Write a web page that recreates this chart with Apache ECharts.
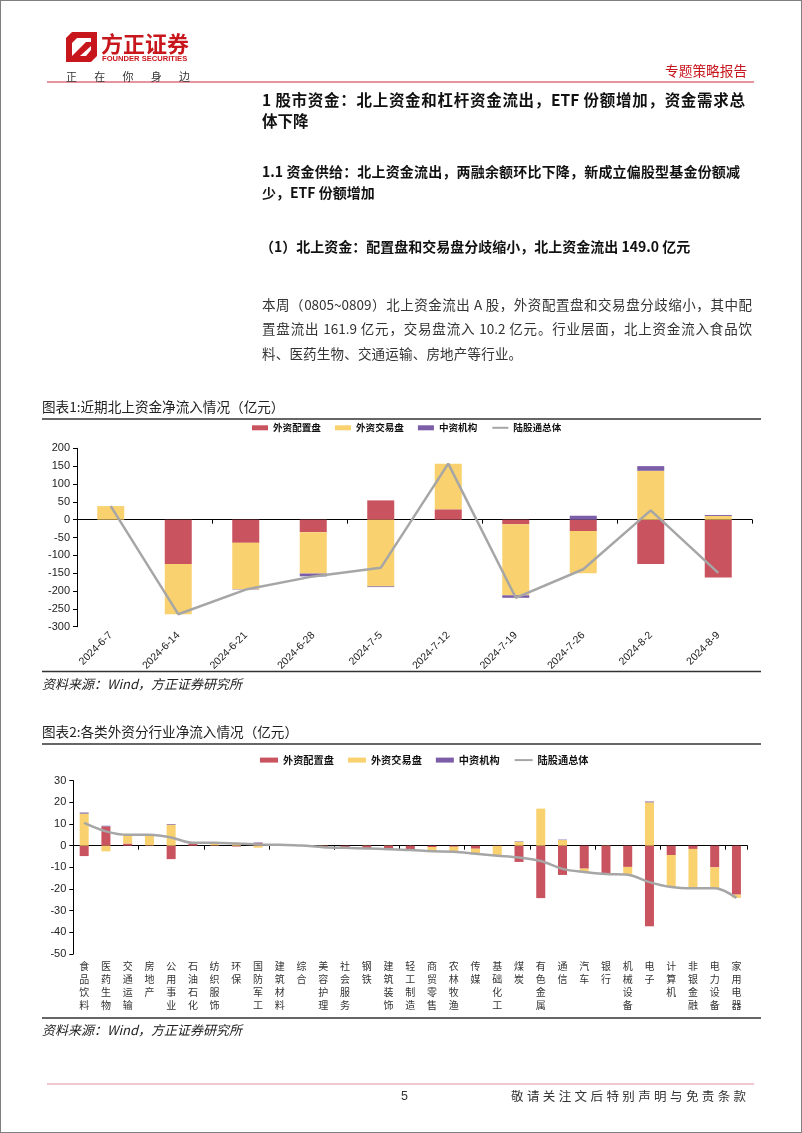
<!DOCTYPE html>
<html>
<head>
<meta charset="utf-8">
<script src="https://cdn.jsdelivr.net/npm/echarts@6/dist/echarts.min.js"></script>
<style>
html,body{margin:0;padding:0;background:#fff;}
#page{position:relative;width:802px;height:1133px;overflow:hidden;background:#fff;font-family:'Noto Sans CJK SC','Noto Sans',sans-serif;}
#frame{position:absolute;left:0;top:0;width:800px;height:1131px;border:1px solid #7f7f7f;}
#chart{position:absolute;left:0;top:0;width:802px;height:1133px;}
.t{position:absolute;white-space:normal;color:#111;}
.j{text-align:justify;text-align-last:justify;}
.h1{font-size:15.5px;font-weight:bold;line-height:20px;}
.h2{font-size:14px;font-weight:bold;line-height:20px;}
.b{font-size:13.5px;line-height:20px;color:#333;}
</style>
</head>
<body>
<div id="page">
  <div id="frame"></div>
  <div id="chart"></div>

  <!-- header -->
  <svg style="position:absolute;left:0;top:0" width="802" height="90">
    <path d="M66,38 L72,32 L97,32 L97,56 L91,62 L66,62 Z" fill="#C8161D"/>
    <path d="M72,43 L77,38 L91,38 L91,50 L86,56 L72,56 Z" fill="#fff"/>
    <path d="M72,56 L86,42 L91,42 L91,46 L80,56 Z" fill="#C8161D"/>
    <line x1="47" y1="82" x2="754" y2="82" stroke="#E0707F" stroke-width="1.5"/>
  </svg>
  <div class="t" style="left:101px;top:29px;font-size:22px;font-weight:bold;color:#C8161D;line-height:26px;letter-spacing:0px;">方正证券</div>
  <div class="t" style="left:102px;top:54px;font-size:7.6px;font-weight:bold;color:#C8161D;line-height:10px;font-family:'Liberation Sans',Arial,sans-serif;">FOUNDER SECURITIES</div>
  <div class="t j" style="left:66px;top:69px;width:124px;font-size:11px;color:#333;line-height:14px;">正 在 你 身 边</div>
  <div class="t" style="left:665px;top:61px;font-size:13.7px;color:#C8161D;line-height:18px;">专题策略报告</div>

  <!-- headings -->
  <div class="t j h1" style="left:262px;top:89px;width:483px;">1 股市资金：北上资金和杠杆资金流出，ETF 份额增加，资金需求总</div>
  <div class="t h1" style="left:262px;top:110px;">体下降</div>
  <div class="t j h2" style="left:262px;top:161px;width:478px;">1.1 资金供给：北上资金流出，两融余额环比下降，新成立偏股型基金份额减</div>
  <div class="t h2" style="left:262px;top:182px;">少，ETF 份额增加</div>
  <div class="t h2" style="left:260px;top:236px;">（1）北上资金：配置盘和交易盘分歧缩小，北上资金流出 149.0 亿元</div>

  <div class="t j b" style="left:262px;top:294px;width:490px;">本周（0805~0809）北上资金流出 A 股，外资配置盘和交易盘分歧缩小，其中配</div>
  <div class="t j b" style="left:262px;top:318px;width:490px;">置盘流出 161.9 亿元，交易盘流入 10.2 亿元。行业层面，北上资金流入食品饮</div>
  <div class="t b" style="left:262px;top:343px;letter-spacing:0.2px;">料、医药生物、交通运输、房地产等行业。</div>

  <!-- footer -->
  <svg style="position:absolute;left:0;top:1075" width="802" height="20">
    <line x1="47" y1="9" x2="754" y2="9" stroke="#E88C9C" stroke-width="1.2"/>
  </svg>
  <div class="t" style="left:401px;top:1088px;font-size:12.5px;color:#333;line-height:16px;font-family:'Liberation Sans',Arial,sans-serif;">5</div>
  <div class="t" style="left:511px;top:1088px;font-size:12.5px;color:#333;line-height:16px;letter-spacing:3.4px;">敬请关注文后特别声明与免责条款</div>
</div>

<script>
// ---------- Chart 1: 近期北上资金净流入情况（亿元） ----------
const dates1  = ['2024-6-7','2024-6-14','2024-6-21','2024-6-28','2024-7-5','2024-7-12','2024-7-19','2024-7-26','2024-8-2','2024-8-9'];
const alloc1  = [0,   -124, -65,  -35,  54,   29,   -13,  -32,  -124, -161.9];
const trade1  = [38,  -141, -130, -116, -187, 128,  -199, -118, 137,  10.2];
const china1  = [0,   0,    -1,   -8,   -2,   0,    -7,   11,   13,   2.7];
const total1  = [38,  -265, -196, -159, -135, 157,  -219, -139, 26,   -149.0];
const yMin1 = -300, yMax1 = 200, yStep1 = 50;

// ---------- Chart 2: 各类外资分行业净流入情况（亿元） ----------
const inds2   = ['食品饮料','医药生物','交通运输','房地产','公用事业','石油石化','纺织服饰','环保','国防军工','建筑材料','综合','美容护理','社会服务','钢铁','建筑装饰','轻工制造','商贸零售','农林牧渔','传媒','基础化工','煤炭','有色金属','通信','汽车','银行','机械设备','电子','计算机','非银金融','电力设备','家用电器'];
const alloc2  = [-4.8, 8.9, 1.0, 0.2, -6.2, 1.0, 0.2, -0.4, 1.3, 0.2, 0.0, -0.8, -0.9, -1.4, -1.7, -2.0, -0.6, -0.5, -1.4, -0.1, -7.5, -24.2, -13.5, -10.6, -13.2, -9.8, -37.2, -4.3, -1.5, -10.0, -22.6];
const trade2  = [14.8, -2.6, 4.0, 4.8, 9.7, 0.3, 1.2, 1.4, -0.9, 0.2, 0.1, 0.1, -0.1, 0.1, 0.1, 0.0, -2.0, -2.3, -2.3, -4.5, 1.8, 17.1, 2.6, -1.6, 0.1, -3.6, 20.0, -14.8, -18.2, -9.7, -1.5];
const china2  = [0.5, 0.3, 0, 0, 0.3, 0, 0, 0, 0.2, 0, 0, 0, 0, 0, 0, 0, 0, 0, 0, 0, 0.2, 0, 0.2, 0, 0, 0, 0.4, 0, 0, 0, 0];
const total2  = [10.5, 6.6, 5.0, 5.0, 3.8, 1.3, 1.4, 1.0, 0.6, 0.4, 0.1, -0.7, -1.0, -1.3, -1.6, -2.0, -2.6, -2.8, -3.7, -4.6, -5.5, -7.1, -10.7, -12.2, -13.1, -13.4, -16.8, -19.1, -19.7, -19.7, -24.1];
const yMin2 = -50, yMax2 = 30, yStep2 = 10;

const seriesNames = ['外资配置盘','外资交易盘','中资机构','陆股通总体'];
const COL = {red:'#C9535F', yellow:'#F9D16E', purple:'#7B5EA7', gray:'#A6A6A6'};
const FONT_CN = "'Noto Sans CJK SC','Noto Sans',sans-serif";
const FONT_EN = "'Liberation Sans',Arial,sans-serif";

const chart = echarts.init(document.getElementById('chart'));

function zeroAxis(gridIndex, data, yIdx){
  return {
    type:'category', gridIndex, data, position:'bottom',
    axisLine:{show:true, onZero:true, onZeroAxisIndex:yIdx, lineStyle:{color:'#000', width:1}},
    axisTick:{show:true, length:4, lineStyle:{color:'#000'}},
    axisLabel:{show:false}, splitLine:{show:false}
  };
}
function valAxis(gridIndex, min, max, step){
  return {
    type:'value', gridIndex, min, max, interval:step,
    axisLine:{show:true, onZero:false, lineStyle:{color:'#000', width:1}},
    axisTick:{show:true, length:4, lineStyle:{color:'#000'}},
    axisLabel:{fontSize:11, color:'#222', margin:7, fontFamily:FONT_EN},
    splitLine:{show:false}
  };
}
function legendFor(left, top, iw, fs){
  return {
    left, top, itemWidth:iw, itemHeight:5, itemGap:14, padding:0,
    textStyle:{fontSize:fs, fontWeight:'bold', color:'#111', fontFamily:FONT_CN},
    data:[{name:seriesNames[0],icon:'rect'},{name:seriesNames[1],icon:'rect'},{name:seriesNames[2],icon:'rect'},
          {name:seriesNames[3], itemStyle:{opacity:0, borderWidth:0}}]
  };
}
function stackSeries(xi, yi, stack, bw, a, t, c, tot, smooth){
  return [
    {name:seriesNames[0], type:'bar', xAxisIndex:xi, yAxisIndex:yi, stack, barWidth:bw, data:a, itemStyle:{color:COL.red}},
    {name:seriesNames[1], type:'bar', xAxisIndex:xi, yAxisIndex:yi, stack, barWidth:bw, data:t, itemStyle:{color:COL.yellow}},
    {name:seriesNames[2], type:'bar', xAxisIndex:xi, yAxisIndex:yi, stack, barWidth:bw, data:c, itemStyle:{color:COL.purple}},
    {name:seriesNames[3], type:'line', xAxisIndex:xi, yAxisIndex:yi, data:tot, symbol:'none', showSymbol:false, smooth:smooth,
      lineStyle:{color:COL.gray, width:2.5}, itemStyle:{color:COL.gray}, z:5}
  ];
}
function txt(x, y, text, size, extra){
  return Object.assign({type:'text', x, y, silent:true, style:Object.assign({text, fontSize:size, fontFamily:FONT_CN, fill:'#222', textAlign:'left', textVerticalAlign:'middle'}, extra||{})});
}
function hline(y, x1, x2){
  return {type:'line', silent:true, shape:{x1, y1:y, x2, y2:y}, style:{stroke:'#333', lineWidth:1.6}};
}

const option = {
  animation:false,
  textStyle:{fontFamily:FONT_CN},
  grid:[
    {left:77, top:448.3, width:675, height:178.4, outerBoundsMode:'none'},
    {left:73.3, top:780.7, width:674, height:173.3, outerBoundsMode:'none'}
  ],
  legend:[ legendFor(252, 423, 16, 9.6), legendFor(260, 755, 18, 10.2) ],
  xAxis:[
    {type:'category', gridIndex:0, data:dates1, position:'bottom',
      axisLine:{show:false, onZero:false}, axisTick:{show:false},
      axisLabel:{rotate:45, interval:0, fontSize:10.5, color:'#222', margin:7, fontFamily:FONT_EN}},
    zeroAxis(0, dates1, 0),
    {type:'category', gridIndex:1, data:inds2, position:'bottom',
      axisLine:{show:false, onZero:false}, axisTick:{show:false},
      axisLabel:{interval:0, fontSize:10, lineHeight:13, color:'#333', margin:6, verticalAlign:'top',
        formatter:(v)=>v.split('').join('\n')}},
    zeroAxis(1, inds2, 1)
  ],
  yAxis:[ valAxis(0, yMin1, yMax1, yStep1), valAxis(1, yMin2, yMax2, yStep2) ],
  series:[].concat(
    stackSeries(0, 0, 's1', 27, alloc1, trade1, china1, total1, false),
    stackSeries(2, 1, 's2', 9, alloc2, trade2, china2, total2, 0.35)
  ),
  graphic:[
    txt(42, 407, '图表1:近期北上资金净流入情况（亿元）', 13.6),
    hline(419, 42, 761),
    hline(671.5, 42, 761),
    txt(42, 684, '资料来源：Wind，方正证券研究所', 13, {fontStyle:'italic', fill:'#222'}),
    txt(42, 732, '图表2:各类外资分行业净流入情况（亿元）', 13.6),
    hline(744, 42, 761),
    hline(1018, 42, 761),
    txt(42, 1030, '资料来源：Wind，方正证券研究所', 13, {fontStyle:'italic', fill:'#222'})
  ]
};
chart.setOption(option);
</script>
</body>
</html>
